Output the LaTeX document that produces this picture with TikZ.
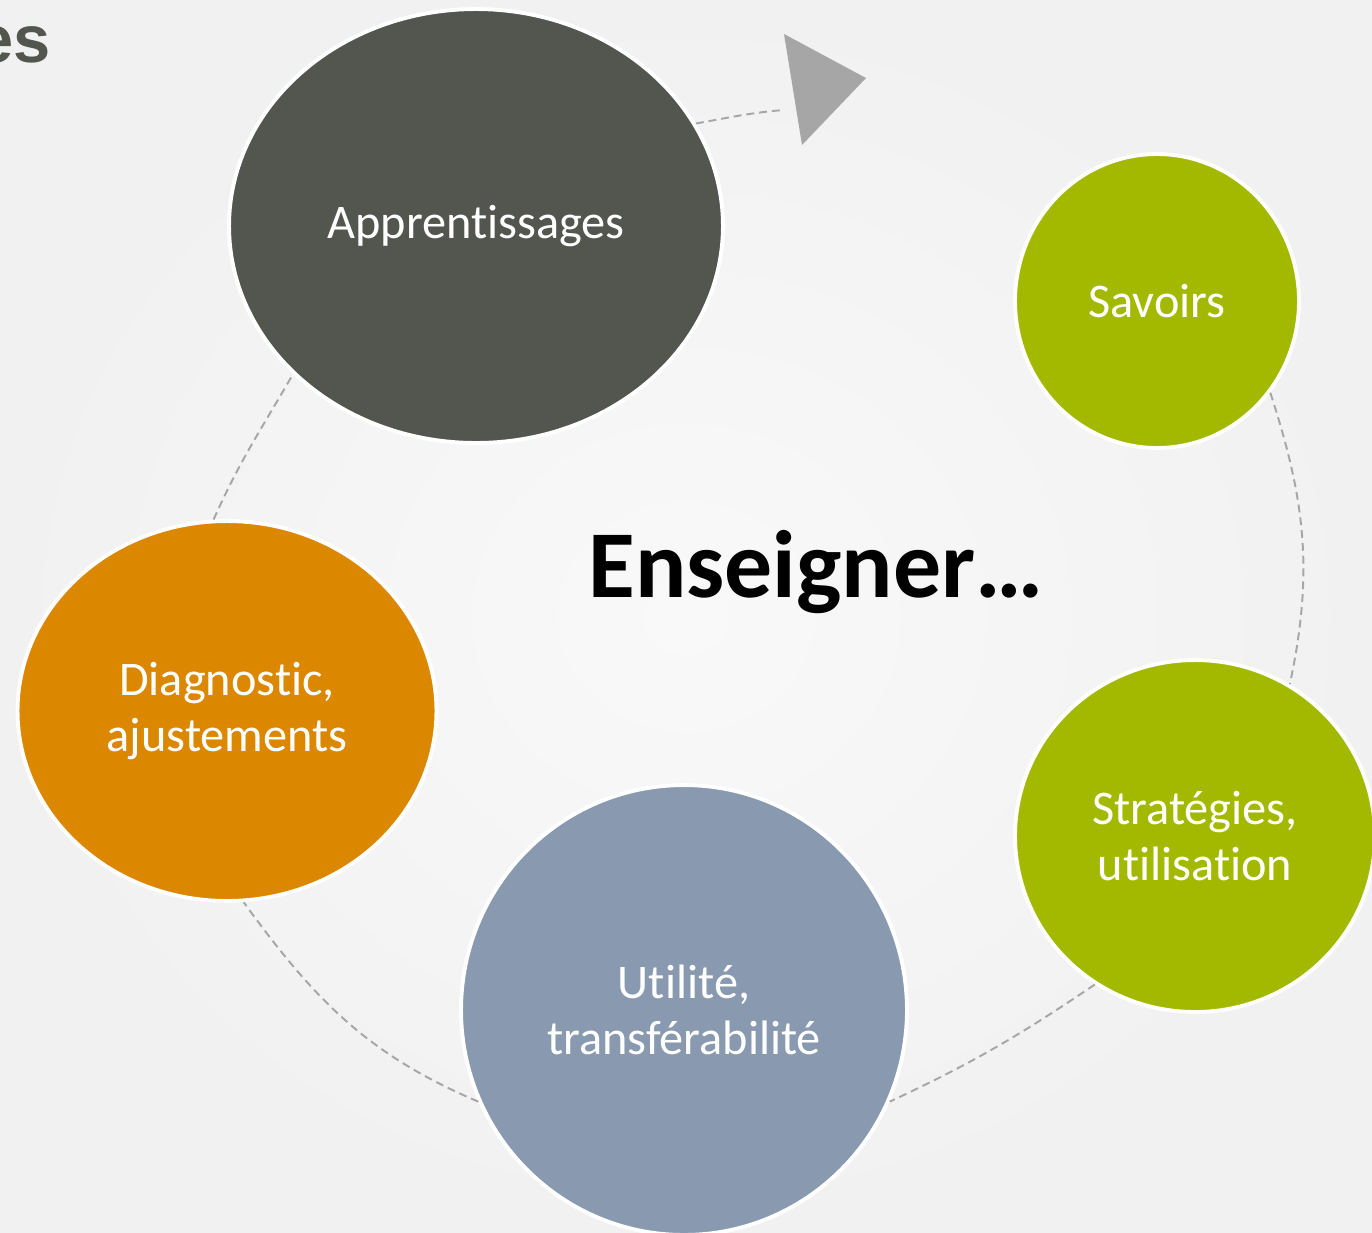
\documentclass[tikz,border=0pt]{standalone}
\usepackage{fontspec}
\setmainfont{Carlito}[Ligatures={TeX,NoCommon}]
\newfontfamily\headfont{Liberation Sans}
\usepackage{tikz}
\usetikzlibrary{shapes.geometric}
\definecolor{bgin}{HTML}{F9F9F9}
\definecolor{bgout}{HTML}{F1F1F1}
\definecolor{apprgray}{HTML}{53554F}
\definecolor{savgreen}{HTML}{A3B900}
\definecolor{diagorange}{HTML}{DB8700}
\definecolor{utilblue}{HTML}{8899B0}
\definecolor{linegray}{HTML}{A6A6A6}

\begin{document}
\begin{tikzpicture}[x=0.02cm,y=-0.02cm,
  bubble/.style={ellipse,draw=white,line width=2.2pt,inner sep=0pt,text=white,align=center,font=\fontsize{27.5}{32}\selectfont},
  cycleline/.style={draw=linegray,line width=1.1pt,dash pattern=on 4.5pt off 2.8pt}]
\useasboundingbox (0,0) rectangle (1372,1232);
\clip (0,0) rectangle (1372,1232);
\shade [inner color=bgin,outer color=bgout] (0,0) rectangle (1372,1232);

% cut title at the top left
\node [anchor=base east,inner sep=0pt,text=apprgray,font=\headfont\bfseries\fontsize{38}{40}\selectfont] (head) at (51,62) {es};

% the five steps
\node [bubble,fill=apprgray,minimum width=9.88cm,minimum height=8.68cm] (appr) at (476,226) {Apprentissages};
\node [bubble,fill=savgreen,minimum width=5.68cm,minimum height=5.88cm] (sav) at (1157,301) {Savoirs};
\node [bubble,fill=savgreen,minimum width=7.2cm,minimum height=7.04cm] (strat) at (1195,836) {Stratégies,\\utilisation};
\node [bubble,fill=utilblue,minimum width=8.92cm,minimum height=9.0cm] (util) at (684,1010) {Utilité,\\transférabilité};
\node [bubble,fill=diagorange,minimum width=8.38cm,minimum height=7.6cm] (diag) at (227,711) {Diagnostic,\\ajustements};

\node [anchor=base,inner sep=0pt,font=\bfseries\fontsize{54.5}{58}\selectfont] (title) at (816,597) {Enseigner…};

% arrow head
\coordinate (tip) at (783,110);
\fill [linegray] (784,34) -- (866,78) -- (802,145) -- cycle;

% dashed cycle
\draw [cycleline] (appr.25) to[out=10,in=185] (tip);
\draw [cycleline] (sav.-39) to[out=-72,in=78] (strat.58);
\draw [cycleline] (strat.236) to[out=214,in=25] (util.-24);
\draw [cycleline] (util.204) to[out=157,in=-54] (diag.275);
\draw [cycleline] (diag.94) to[out=66,in=240] (appr.219);

\end{tikzpicture}
\end{document}
